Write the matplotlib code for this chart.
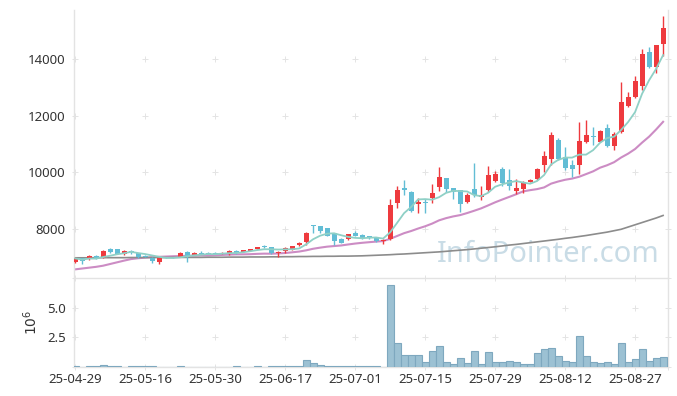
import numpy as np
import pandas as pd
import matplotlib
matplotlib.use("Agg")
import matplotlib.pyplot as plt

plt.rcParams['font.family'] = ['Noto Sans', 'DejaVu Sans']

# daily candles (trading-day index 0..84)
opens = [6830, 6950, 6915, 7040, 6970, 7280, 7280, 7095, 7190, 7140,
         7040, 6975, 6830, 6995, 6995, 7000, 7185, 7070, 7140, 7140,
         7140, 7110, 7130, 7210, 7175, 7210, 7280, 7390, 7350, 7130,
         7220, 7245, 7435, 7530, 8130, 8095, 8015, 7835, 7635, 7625,
         7860, 7765, 7730, 7695, 7555, 7625, 8920, 9440, 9310, 8865,
         8955, 9080, 9490, 9795, 9430, 9370, 8955, 9405, 9135, 9370,
         9700, 10105, 9725, 9345, 9415, 9665, 9750, 10255, 10460, 11145,
         10530, 10255, 10255, 11085, 11270, 11085, 11555, 10930, 11435, 12345,
         12655, 13065, 14250, 13740, 14535]
highs = [7000, 6960, 7060, 7060, 7240, 7300, 7290, 7230, 7250, 7150,
         7060, 6990, 6990, 7010, 7010, 7170, 7200, 7170, 7210, 7160,
         7160, 7170, 7240, 7230, 7250, 7290, 7360, 7440, 7360, 7200,
         7350, 7400, 7540, 7880, 8140, 8110, 8030, 7850, 7670, 7830,
         7905, 7830, 7750, 7710, 7630, 9040, 9510, 9725, 9320, 9075,
         9040, 9575, 10175, 9810, 9450, 9390, 9250, 10315, 9525, 10220,
         10030, 10200, 10100, 9750, 9680, 9760, 10140, 10765, 11435, 11200,
         10885, 10435, 11790, 11850, 11615, 11500, 11710, 11435, 13210, 12855,
         13410, 14365, 14450, 14520, 15535]
lows = [6780, 6760, 6890, 6920, 6950, 7140, 7100, 7080, 7100, 6980,
        6990, 6795, 6760, 6970, 6975, 6990, 6830, 7060, 7090, 7090,
        7090, 7100, 7070, 7120, 7160, 7200, 7270, 7330, 7120, 7010,
        7150, 7230, 7400, 7440, 7840, 7840, 7730, 7440, 7490, 7610,
        7740, 7620, 7640, 7540, 7470, 7600, 8720, 9195, 8600, 8545,
        8545, 8900, 9345, 9300, 9040, 8580, 8900, 9135, 9015, 9310,
        9640, 9530, 9370, 9230, 9255, 9640, 9730, 10020, 10255, 10450,
        10080, 9845, 9940, 11045, 10965, 11070, 10900, 10790, 11400, 12330,
        12640, 12915, 13685, 13505, 14130]
closes = [6950, 6860, 7020, 6940, 7210, 7190, 7115, 7210, 7180, 7000,
          7010, 6870, 6970, 6985, 6985, 7130, 7045, 7140, 7100, 7100,
          7100, 7150, 7220, 7130, 7235, 7280, 7350, 7370, 7130, 7185,
          7305, 7375, 7505, 7850, 8100, 7930, 7740, 7575, 7505, 7810,
          7750, 7680, 7660, 7555, 7610, 8840, 9370, 9385, 8640, 8955,
          8900, 9265, 9830, 9405, 9310, 8865, 9195, 9195, 9195, 9915,
          9935, 9630, 9525, 9440, 9655, 9725, 10115, 10575, 11320, 10460,
          10140, 10105, 11105, 11320, 11250, 11460, 10930, 11355, 12500, 12655,
          13230, 14180, 13740, 14510, 15100]
# volume in millions of shares
volumes = [0.05, 0.01, 0.05, 0.05, 0.15, 0.05, 0.05, 0.01, 0.05, 0.05,
           0.05, 0.05, 0.01, 0.01, 0.01, 0.05, 0.01, 0.01, 0.01, 0.01,
           0.01, 0.01, 0.01, 0.05, 0.01, 0.01, 0.05, 0.01, 0.05, 0.05,
           0.05, 0.05, 0.05, 0.55, 0.30, 0.15, 0.05, 0.05, 0.05, 0.05,
           0.05, 0.05, 0.05, 0.10, 0.02, 6.87, 2.06, 1.04, 1.04, 1.04,
           0.44, 1.38, 1.81, 0.44, 0.27, 0.78, 0.36, 1.38, 0.27, 1.30,
           0.44, 0.44, 0.53, 0.44, 0.27, 0.27, 1.21, 1.55, 1.64, 0.96,
           0.53, 0.44, 2.58, 0.96, 0.44, 0.36, 0.44, 0.27, 2.06, 0.44,
           0.70, 1.55, 0.53, 0.78, 0.87]
# 20-day average for the first days (needs earlier history)
ma20_head = [6560, 6590, 6620, 6650, 6690, 6750, 6810, 6870, 6925, 6955,
             6975, 6990, 7005, 7015, 7025, 7033, 7040, 7048, 7055]
# 120-day average
ma120 = [6970, 6970, 6970, 6975, 6975, 6975, 6975, 6975, 6980, 6980,
         6980, 6980, 6980, 6980, 6985, 6985, 6985, 6985, 6985, 6990,
         6990, 6990, 6995, 6995, 6995, 7000, 7000, 7000, 7005, 7005,
         7010, 7010, 7015, 7015, 7020, 7020, 7025, 7025, 7030, 7030,
         7035, 7040, 7050, 7060, 7070, 7080, 7095, 7105, 7120, 7135,
         7150, 7165, 7180, 7200, 7220, 7240, 7260, 7285, 7310, 7335,
         7360, 7390, 7420, 7445, 7475, 7505, 7535, 7565, 7595, 7625,
         7660, 7690, 7725, 7760, 7800, 7840, 7880, 7930, 7980, 8060,
         8140, 8220, 8300, 8380, 8470]
tick_idx = [0, 10, 20, 30, 40, 50, 60, 70, 80]
tick_labels = ['25-04-29', '25-05-16', '25-05-30', '25-06-17', '25-07-01',
               '25-07-15', '25-07-29', '25-08-12', '25-08-27']

df = pd.DataFrame({'open': opens, 'high': highs, 'low': lows, 'close': closes, 'vol': volumes})
x = np.arange(len(df))
df['ma5'] = df['close'].rolling(5, min_periods=1).mean()
df['ma20'] = df['close'].rolling(20).mean()
df.loc[:len(ma20_head) - 1, 'ma20'] = ma20_head

RED = '#ee3a3e'
BLUE = '#62bdd5'
CROSS = '#e4e4e4'
SPINE = '#e3e3e3'
TXT = '#333333'

fig = plt.figure(figsize=(6.77, 3.96), dpi=100)
ax = fig.add_axes([74 / 677, 1 - 277 / 396, 594 / 677, 267 / 396])
axv = fig.add_axes([74 / 677, 1 - 367 / 396, 594 / 677, 89 / 396], sharex=ax)

up = df['close'] >= df['open']
colors = np.where(up, RED, BLUE)
body_lo = np.minimum(df['open'], df['close'])
body_h = np.maximum((df['close'] - df['open']).abs(), 25)
ax.vlines(x, df['low'], df['high'], colors=colors, lw=1.0, zorder=3)
ax.bar(x, body_h, bottom=body_lo, width=0.72, color=colors, linewidth=0, zorder=4)

ax.plot(x, df['ma5'], color='#8fd0c6', lw=1.3, zorder=5)
ax.plot(x, df['ma20'], color='#cc8cc4', lw=1.5, zorder=2)
ax.plot(x, ma120, color='#8c8c8c', lw=1.2, zorder=2)

ax.text(0.986, 0.085, 'InfoPointer.com', transform=ax.transAxes, ha='right', va='center',
        fontsize=21, color='#c9dce6', zorder=1)

axv.bar(x, df['vol'], width=1.0, color='#9cc1d3', edgecolor='#7ea8bf', linewidth=0.8, zorder=3)

xmax = 84.7
ax.set_xlim(-0.15, xmax)
ax.set_ylim(6290, 15750)
axv.set_ylim(0, 7.5)

price_ticks = [8000, 10000, 12000, 14000]
vol_ticks = [2.5, 5.0]

# small cross markers in place of grid lines
gx = tick_idx + [xmax]
for yy in price_ticks:
    ax.plot(gx, [yy] * len(gx), '+', ms=4, mew=0.7, color=CROSS, zorder=0, clip_on=False)
for yy in [0, 2.5, 5.0, 7.5]:
    axv.plot(gx, [yy] * len(gx), '+', ms=4, mew=0.7, color=CROSS, zorder=0, clip_on=False)

ax.set_yticks(price_ticks)
ax.set_yticklabels([str(v) for v in price_ticks])
axv.set_yticks(vol_ticks)
axv.set_yticklabels(['2.5', '5.0'])
axv.set_xticks(tick_idx)
axv.set_xticklabels(tick_labels)

ax.tick_params(axis='x', length=0, labelbottom=False)
ax.tick_params(axis='y', length=0, pad=6, labelsize=9.5, labelcolor=TXT)
axv.tick_params(axis='both', length=0, labelsize=9.5, labelcolor=TXT)
axv.tick_params(axis='y', pad=6)
axv.tick_params(axis='x', pad=4)

for a in (ax, axv):
    for s in a.spines.values():
        s.set_color(SPINE)
        s.set_linewidth(1.0)
ax.spines['top'].set_visible(False)
ax.spines['bottom'].set_visible(False)

fig.text(32 / 677, 1 - 322 / 396, '$10^6$', rotation=90, ha='center', va='center',
         fontsize=10, color=TXT)

fig.savefig('out.png', dpi=100)
